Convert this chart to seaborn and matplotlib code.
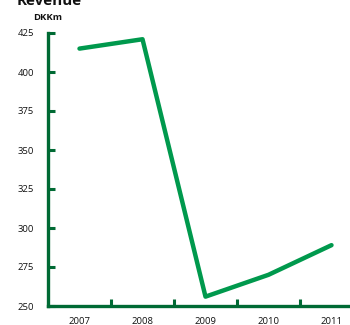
import matplotlib
matplotlib.use("Agg")
import matplotlib.pyplot as plt
import seaborn as sns
import pandas as pd

years = ["2007", "2008", "2009", "2010", "2011"]
revenue = [415, 421, 256, 270, 289]
yticks = [250, 275, 300, 325, 350, 375, 400, 425]

sns.set_style("white")
plt.rcParams['font.family'] = ['Open Sans', 'DejaVu Sans']

df = pd.DataFrame({"year": years, "revenue": revenue})

fig = plt.figure(figsize=(3.5, 3.25), dpi=100)
ax = fig.add_axes([48/350, 19/325, 315/350, 273/325])
line_color = "#00994d"
axis_color = "#006a34"

sns.lineplot(data=df, x="year", y="revenue", ax=ax, color=line_color, linewidth=3.2)

ax.set_xlim(-0.5, 4.5)
ax.set_ylim(250, 425)
ax.set_yticks(yticks)
ax.set_yticklabels([str(v) for v in yticks], fontsize=6.8, color="#111111")
ax.set_xticks(range(len(years)))
ax.set_xticklabels(years, fontsize=6.8, color="#111111")
ax.set_xticks([0.5, 1.5, 2.5, 3.5], minor=True)
ax.tick_params(axis="x", which="major", bottom=False, length=0, pad=8)
ax.tick_params(axis="x", which="minor", bottom=True, direction="in", length=5, width=2.2, color=axis_color)
ax.tick_params(axis="y", left=True, direction="in", length=5, width=2.2, color=axis_color, pad=10)
ax.set_xlabel("")
ax.set_ylabel("")
for s in ["top", "right"]:
    ax.spines[s].set_visible(False)
for s in ["left", "bottom"]:
    ax.spines[s].set_color(axis_color)
    ax.spines[s].set_linewidth(2.4)
ax.grid(False)

fig.text(17/350, 1 - 5/325, "Revenue", fontsize=11, fontweight="bold", ha="left", va="baseline", color="#111111")
fig.text(33/350, 1 - 17/325, "DKKm", fontsize=6.8, fontweight="bold", ha="left", va="center", color="#111111")

fig.savefig("out.png", dpi=100)
